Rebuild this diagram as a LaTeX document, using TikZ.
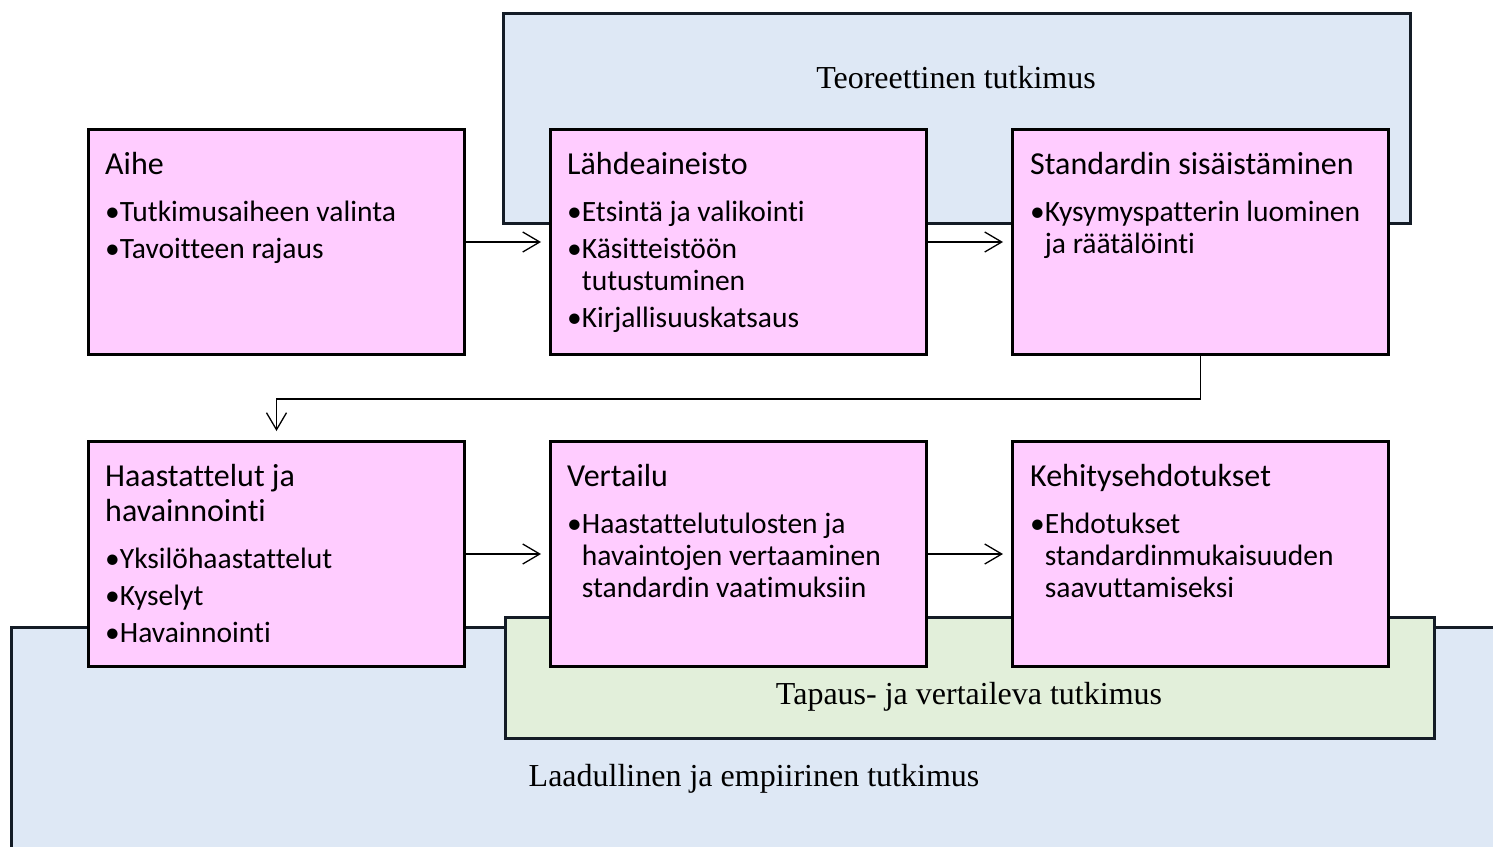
\documentclass[tikz,border=0pt]{standalone}
\usepackage{fontspec}
\setmainfont{Carlito}[Ligatures=NoCommon]
\newfontfamily\serif{Liberation Serif}
\usetikzlibrary{arrows.meta}
\definecolor{pinkfill}{RGB}{255,204,255}
\definecolor{bluefill}{RGB}{222,232,245}
\definecolor{greenfill}{RGB}{226,239,218}
\definecolor{edge}{RGB}{20,28,38}
\begin{document}
\begin{tikzpicture}[x=1pt,y=-1pt,
 region/.style={draw=edge,line width=3pt,anchor=north west,inner sep=0pt},
 card/.style={draw=black,line width=3pt,fill=pinkfill,anchor=north west,inner sep=0pt,minimum width=376pt,minimum height=225pt},
 ttl/.style={anchor=base west,inner sep=0pt,font=\fontsize{32}{32}\selectfont},
 itm/.style={anchor=base west,inner sep=0pt,font=\fontsize{29.5}{29.5}\selectfont},
 lbl/.style={inner sep=0pt,font=\serif\fontsize{32}{32}\selectfont},
 conn/.style={line width=1.3pt,-{Straight Barb[length=17pt,width=20pt,line width=1.3pt]}}
]
\useasboundingbox (0,0) rectangle (1493,846);
% regions
\node[region,fill=bluefill,minimum width=1500pt,minimum height=300pt] (emp) at (10,626) {};
\node[region,fill=greenfill,minimum width=929pt,minimum height=121pt] (tap) at (504,616) {};
\node[region,fill=bluefill,minimum width=907pt,minimum height=210pt] (teo) at (502,12) {};
\node[lbl] (teol) at (956,78) {Teoreettinen tutkimus};
\node[lbl] (tapl) at (969,697) {Tapaus- ja vertaileva tutkimus};
\node[lbl] (empl) at (754,779) {Laadullinen ja empiirinen tutkimus};
% cards
\node[card] (b1) at (87,128) {};
\node[card] (b2) at (549,128) {};
\node[card] (b3) at (1011,128) {};
\node[card] (b4) at (87,440) {};
\node[card] (b5) at (549,440) {};
\node[card] (b6) at (1011,440) {};
% texts
\node[ttl] (b1t) at (105,174) {Aihe};
\node[itm] (b1a) at (105,221) {•Tutkimusaiheen valinta};
\node[itm] (b1b) at (105,258) {•Tavoitteen rajaus};
\node[ttl] (b2t) at (567,174) {Lähdeaineisto};
\node[itm] (b2a) at (567,221) {•Etsintä ja valikointi};
\node[itm] (b2b) at (567,258) {•Käsitteistöön};
\node[itm] (b2c) at (567,290) {\phantom{•}tutustuminen};
\node[itm] (b2d) at (567,327) {•Kirjallisuuskatsaus};
\node[ttl] (b3t) at (1030,174) {Standardin sisäistäminen};
\node[itm] (b3a) at (1030,221) {•Kysymyspatterin luominen};
\node[itm] (b3b) at (1030,253) {\phantom{•}ja räätälöinti};
\node[ttl] (b4t) at (105,486) {Haastattelut ja};
\node[ttl] (b4u) at (105,521) {havainnointi};
\node[itm] (b4a) at (105,568) {•Yksilöhaastattelut};
\node[itm] (b4b) at (105,605) {•Kyselyt};
\node[itm] (b4c) at (105,642) {•Havainnointi};
\node[ttl] (b5t) at (567,486) {Vertailu};
\node[itm] (b5a) at (567,533) {•Haastattelutulosten ja};
\node[itm] (b5b) at (567,565) {\phantom{•}havaintojen vertaaminen};
\node[itm] (b5c) at (567,597) {\phantom{•}standardin vaatimuksiin};
\node[ttl] (b6t) at (1030,486) {Kehitysehdotukset};
\node[itm] (b6a) at (1030,533) {•Ehdotukset};
\node[itm] (b6b) at (1030,565) {\phantom{•}standardinmukaisuuden};
\node[itm] (b6c) at (1030,597) {\phantom{•}saavuttamiseksi};
% connectors
\draw[conn,shorten >=8pt] (b1.east) -- (b2.west);
\draw[conn,shorten >=8pt] (b2.east) -- (b3.west);
\draw[conn,shorten >=8pt] (b4.east) -- (b5.west);
\draw[conn,shorten >=8pt] (b5.east) -- (b6.west);
\draw[conn,shorten >=9pt] (b3.south) -- ++(0,43) -| (b4.north);
\end{tikzpicture}
\end{document}
